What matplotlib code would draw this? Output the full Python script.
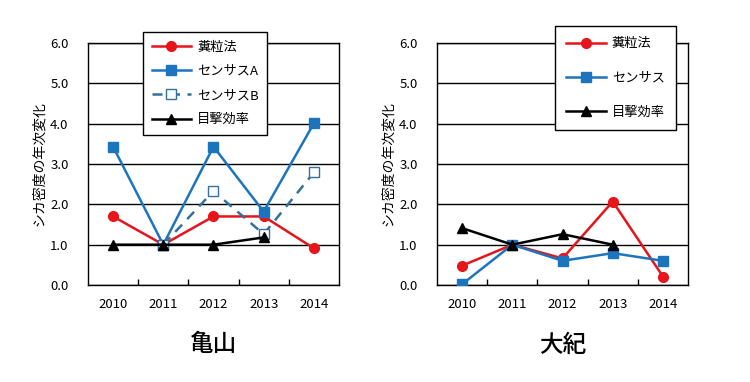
import numpy as np
import matplotlib
matplotlib.use("Agg")
import matplotlib.pyplot as plt

plt.rcParams['font.family'] = ['Noto Sans CJK JP', 'DejaVu Sans']

years = ['2010', '2011', '2012', '2013', '2014']

# 亀山
kameyama_fun = [1.70, 1.00, 1.70, 1.70, 0.91]
kameyama_census_a = [3.43, 1.00, 3.43, 1.82, 4.01]
kameyama_census_b = [np.nan, 1.00, 2.33, 1.26, 2.79]
kameyama_sight = [1.00, 1.00, 1.00, 1.18, np.nan]

# 大紀
taiki_fun = [0.48, 1.00, 0.66, 2.07, 0.21]
taiki_census = [0.02, 1.00, 0.60, 0.79, 0.60]
taiki_sight = [1.41, 1.00, 1.26, 1.00, np.nan]

RED = '#e8141b'
BLUE = '#1c75bc'
BLUE_B = '#33709c'

fig = plt.figure(figsize=(7.5, 3.82), dpi=100)
ax1 = fig.add_axes([0.1173, 0.2539, 0.3347, 0.6335])
ax2 = fig.add_axes([0.5827, 0.2539, 0.3347, 0.6335])

x = np.arange(len(years))


def style_axes(ax, title):
    ax.set_xlim(-0.5, 4.5)
    ax.set_ylim(0, 6)
    ax.set_yticks(np.arange(0, 7, 1))
    ax.set_yticklabels([f'{v:.1f}' for v in range(7)], fontsize=9.5)
    ax.set_xticks(x)
    ax.set_xticklabels(years, fontsize=9.5)
    ax.set_xticks(x[:-1] + 0.5, minor=True)
    ax.tick_params(axis='x', which='major', length=0, pad=9)
    ax.tick_params(axis='x', which='minor', direction='in', length=4, width=1)
    ax.tick_params(axis='y', length=0, pad=14)
    ax.yaxis.grid(True, color='black', linewidth=1)
    ax.set_axisbelow(True)
    for s in ax.spines.values():
        s.set_linewidth(1)
        s.set_color('black')
    ax.set_ylabel('シカ密度の年次変化', fontsize=10, labelpad=3)
    ax.text(0.5, -0.2, title, transform=ax.transAxes, ha='center', va='top',
            fontsize=17, fontweight='medium')


ax1.plot(x, kameyama_fun, color=RED, lw=1.8, marker='o', ms=7, label='糞粒法', zorder=3)
ax1.plot(x, kameyama_census_a, color=BLUE, lw=1.8, marker='s', ms=7, label='センサスA', zorder=3)
ax1.plot(x, kameyama_census_b, color=BLUE_B, lw=1.8, ls=(0, (4, 3)), marker='s', ms=7,
         mfc='white', mec=BLUE_B, mew=1, label='センサスB', zorder=3)
ax1.plot(x, kameyama_sight, color='black', lw=1.8, marker='^', ms=7, label='目撃効率', zorder=4)
style_axes(ax1, '亀山')
leg1 = ax1.legend(loc='upper left', bbox_to_anchor=(0.1907, 0.916), bbox_transform=fig.transFigure,
                  fontsize=9.5, frameon=True, fancybox=False, edgecolor='black', framealpha=1,
                  handlelength=3.0, labelspacing=0.85, borderpad=0.65, borderaxespad=0,
                  handletextpad=0.45, numpoints=1)
leg1.get_frame().set_linewidth(1)

ax2.plot(x, taiki_fun, color=RED, lw=1.8, marker='o', ms=7, label='糞粒法', zorder=3)
ax2.plot(x, taiki_census, color=BLUE, lw=1.8, marker='s', ms=7, label='センサス', zorder=3)
ax2.plot(x, taiki_sight, color='black', lw=1.8, marker='^', ms=7, label='目撃効率', zorder=4)
style_axes(ax2, '大紀')
leg2 = ax2.legend(loc='upper left', bbox_to_anchor=(0.74, 0.932), bbox_transform=fig.transFigure,
                  fontsize=9.5, frameon=True, fancybox=False, edgecolor='black', framealpha=1,
                  handlelength=3.0, labelspacing=1.6, borderpad=0.85, borderaxespad=0,
                  handletextpad=0.45, numpoints=1)
leg2.get_frame().set_linewidth(1)

fig.savefig('out.png', dpi=100, facecolor='white')
